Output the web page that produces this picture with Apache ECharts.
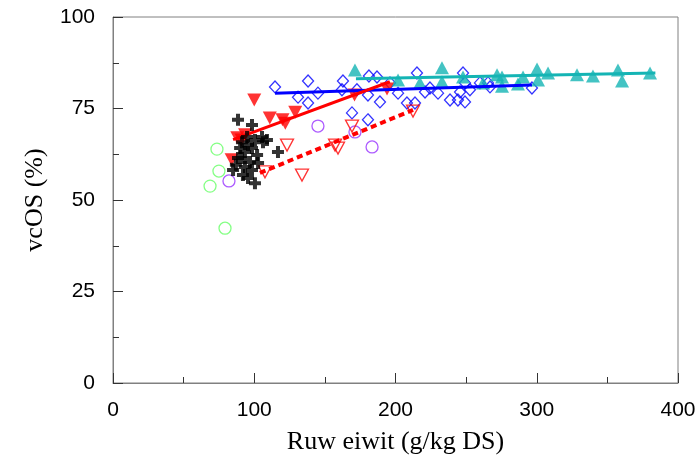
<!DOCTYPE html>
<html><head><meta charset="utf-8">
<script src="https://cdn.jsdelivr.net/npm/echarts@6/dist/echarts.min.js"></script>
<style>html,body{margin:0;padding:0;background:#fff}#c{width:695px;height:455px}</style>
</head><body><div id="c"></div>
<script>
const xTicks = [0, 100, 200, 300, 400];
const yTicks = [0, 25, 50, 75, 100];
const greenCircles = [[73.6,63.9],[75,57.9],[68.7,53.8],[79.3,42.3]];
const purpleCircles = [[82.1,55.2],[145.1,70.2],[171.3,68.6],[183.4,64.5]];
const redOpenTri = [[107.6,57.7],[123.2,65.0],[133.8,56.8],[157.2,65.0],[159.3,64.2],[169.2,70.2],[212.4,74.3]];
const redFilledTri = [[84,61],[88,67],[91,66.4],[93.5,67.8],[100,77.3],[111,72.4],[120,71.9],[122,71],[129,74],[171,78.7],[194,80.3]];
const blackCross = [[88.5,71.9],[98.4,70.5],[105.5,67.2],[109,66.4],[116.8,63.1],[93.4,63.1],[85,58.2],[92,56.8],[100.5,54.6],[91.3,65.8],[95.6,65],[88.5,61.5],[97,60.4],[102,62.3],[102.7,60.1],[93.4,59],[90,64.2],[98.4,64.2],[106.2,65.8],[94.9,67.2],[91.3,61.5],[98.4,58.2],[95.6,56],[87,59.6],[100.5,66.4]];
const blueDiamonds = [[114.7,80.9],[138.1,82.5],[131.0,78.1],[138.1,76.5],[145.1,79.2],[162.8,82.5],[162.1,80.1],[169.2,73.8],[180.5,71.9],[181.2,83.9],[172.7,80.1],[180.5,78.7],[189.0,76.8],[186.9,83.6],[196.1,82.0],[201.8,79.2],[208.1,76.5],[215.2,84.7],[213.8,76.5],[220.9,79.5],[224.4,80.6],[230.1,79.2],[238.6,77.3],[244.2,77.3],[247.8,84.7],[249.2,82.0],[245.7,79.5],[252.7,80.1],[249.2,76.8],[259.8,82.0],[265.5,82.0],[266.9,80.9],[296.6,80.6]];
const tealTri = [[171.3,85.5],[201.8,82.8],[217.3,82.0],[232.9,86.1],[232.9,82.3],[247.8,83.6],[262,82.0],[271.9,84.2],[275.4,83.6],[275.4,81.1],[286.7,81.7],[290.3,83.6],[300.2,85.8],[300.9,82.8],[308,84.7],[328.5,84.2],[339.8,83.9],[357.5,85.5],[360.4,82.5],[380.2,84.7]];
const blueLine = [[114.7,79.2],[296.6,81.4]];
const redLine = [[85,66.5],[196,82.3]];
const redDashLine = [[104,57.4],[212.4,74.6]];
const tealLine = [[172,83.1],[384,84.7]];

const chart = echarts.init(document.getElementById('c'), null, {renderer:'canvas'});
const plus = 'path://M4,0h4v4h4v4h-4v4h-4v-4h-4v-4h4z';
const downTri = 'path://M0,0L10,0L5,9Z';
const axisCommon = {
  axisLine:{show:true,lineStyle:{color:'#808080',width:1}},
  axisTick:{show:true,inside:true,length:10,lineStyle:{color:'#333',width:1}},
  minorTick:{show:true,splitNumber:2,length:6,lineStyle:{color:'#333',width:1}},
  splitLine:{show:false},
  axisLabel:{fontFamily:'Liberation Sans',fontSize:21,color:'#000'},
  nameTextStyle:{fontFamily:'Liberation Serif',fontSize:26,color:'#000'}
};
function lineSeries(data,color,width,type){
  return {type:'line',data:data,symbol:'none',z:3,lineStyle:{color:color,width:width,type:type||'solid'},silent:true};
}
chart.setOption({
  animation:false,
  grid:{left:113,top:17,width:565,height:366,outerBoundsMode:'none',containLabel:false,show:true,borderColor:'#808080',borderWidth:1},
  xAxis:Object.assign({},axisCommon,{type:'value',min:xTicks[0],max:xTicks[xTicks.length-1],interval:100,
    name:'Ruw eiwit (g/kg DS)',nameLocation:'middle',nameGap:46,
    axisLabel:Object.assign({},axisCommon.axisLabel,{margin:17})}),
  yAxis:Object.assign({},axisCommon,{type:'value',min:yTicks[0],max:yTicks[yTicks.length-1],interval:25,
    name:'vcOS (%)',nameLocation:'middle',nameGap:65,
    axisLabel:Object.assign({},axisCommon.axisLabel,{margin:18})}),
  series:[
    {type:'scatter',data:greenCircles,symbol:'circle',symbolSize:12,itemStyle:{color:'transparent',borderColor:'#66ff66',borderWidth:1.3}},
    {type:'scatter',data:purpleCircles,symbol:'circle',symbolSize:12,itemStyle:{color:'transparent',borderColor:'#9933ff',borderWidth:1.3}},
    {type:'scatter',data:blueDiamonds,symbol:'diamond',symbolSize:[11,12],itemStyle:{color:'transparent',borderColor:'#0000ff',borderWidth:1.3}},
    lineSeries(blueLine,'#0000ff',3),
    {type:'scatter',data:tealTri,symbol:'triangle',symbolSize:[14,13],itemStyle:{color:'#14b4b4'}},
    lineSeries(tealLine,'#14b4b4',3),
    {type:'scatter',data:redOpenTri,symbol:downTri,symbolSize:[13,12],itemStyle:{color:'transparent',borderColor:'#ff0000',borderWidth:1.3}},
    lineSeries(redDashLine,'#ff0000',4,[6,4]),
    {type:'scatter',data:redFilledTri,symbol:downTri,symbolSize:[14,13],itemStyle:{color:'#ff0000'}},
    lineSeries(redLine,'#ff0000',3),
    {type:'scatter',data:blackCross,symbol:plus,symbolSize:12,z:4,itemStyle:{color:'#000'}}
  ]
});
</script></body></html>
